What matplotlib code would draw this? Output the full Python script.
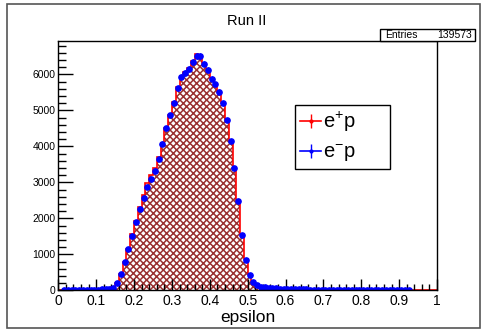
import numpy as np
import matplotlib.pyplot as plt
from matplotlib.lines import Line2D
from matplotlib.patches import Rectangle
from matplotlib.ticker import MultipleLocator

# ── 0. 全局设置 ────────────────────────────────────────────────
plt.rcParams['font.family'] = ['Liberation Sans', 'DejaVu Sans']
plt.rcParams['mathtext.default'] = 'regular'
plt.rcParams['hatch.linewidth'] = 1.1

# ── 1. 数据（100 bins, 0..1） ──────────────────────────────────
bin_edges = np.linspace(0, 1, 101)

# e-p  (蓝点)
ep_minus = [
    0, 8, 10, 12, 12, 14, 15, 16, 18, 20,
    22, 28, 32, 45, 75, 190, 440, 780, 1140, 1520,
    1890, 2260, 2570, 2880, 3090, 3310, 3640, 4070, 4500, 4860,
    5210, 5610, 5920, 6040, 6150, 6350, 6510, 6500, 6300, 6120,
    5880, 5720, 5510, 5190, 4730, 4150, 3400, 2480, 1540, 840,
    430, 230, 140, 100, 80, 70, 62, 52, 45, 38,
    32, 28, 26, 25, 24, 23, 22, 21, 20, 20,
    19, 18, 18, 17, 16, 16, 15, 15, 14, 14,
    13, 13, 12, 12, 11, 11, 10, 10, 10, 9,
    9, 8, 8, 0, 0, 0, 0, 0, 0, 0,
]

# e+p  (红色直方图)
ep_plus = [
    0, 8, 10, 12, 12, 14, 15, 16, 18, 20,
    22, 28, 32, 45, 80, 200, 460, 800, 1160, 1560,
    1930, 2310, 2640, 2980, 3200, 3400, 3700, 4100, 4520, 4880,
    5240, 5640, 5950, 6070, 6180, 6380, 6560, 6540, 6320, 6130,
    5890, 5730, 5520, 5200, 4740, 4160, 3410, 2500, 1560, 860,
    440, 235, 140, 100, 80, 70, 62, 52, 45, 38,
    32, 28, 26, 25, 24, 23, 22, 21, 20, 20,
    19, 18, 18, 17, 16, 16, 15, 15, 14, 14,
    13, 13, 12, 12, 11, 11, 10, 10, 10, 9,
    9, 8, 8, 0, 0, 0, 0, 0, 0, 0,
]

n_entries = 139573

# ── 2. 画图 ────────────────────────────────────────────────────
fig = plt.figure(figsize=(4.84, 3.32), dpi=100)
ax = fig.add_axes([0.1205, 0.1256, 0.7825, 0.7509])

ax.stairs(ep_plus, bin_edges, fill=True, facecolor='white',
          edgecolor='#993030', hatch='xxxxx', linewidth=0)
ax.stairs(ep_plus, bin_edges, color='red', linewidth=1.2)

centers = bin_edges[:-1] + 0.005
y_minus = np.array(ep_minus, dtype=float)
mask = y_minus > 0
ax.errorbar(centers[mask], y_minus[mask], xerr=0.005, yerr=np.sqrt(y_minus[mask]),
            fmt='o', color='blue', markersize=3.8, linewidth=1, capsize=0)

ax.set_xlim(0, 1)
ax.set_ylim(0, 6925)

ax.xaxis.set_major_locator(MultipleLocator(0.1))
ax.xaxis.set_minor_locator(MultipleLocator(0.02))
ax.yaxis.set_major_locator(MultipleLocator(1000))
ax.yaxis.set_minor_locator(MultipleLocator(200))
ax.xaxis.set_major_formatter(plt.FuncFormatter(lambda v, p: f'{v:g}'))

ax.tick_params(axis='x', which='major', direction='in', length=8, width=1,
               labelsize=10, pad=3, top=False)
ax.tick_params(axis='x', which='minor', direction='in', length=4, width=1, top=False)
ax.tick_params(axis='y', which='major', direction='in', length=11, width=1,
               labelsize=7.5, pad=2, right=False)
ax.tick_params(axis='y', which='minor', direction='in', length=5.5, width=1, right=False)

for s in ax.spines.values():
    s.set_linewidth(1)
    s.set_color('black')

ax.set_xlabel('epsilon', fontsize=12.5, labelpad=1)

# 图例
h_plus = (Line2D([], [], color='red', lw=1.2),
          Line2D([], [], color='red', marker='|', markersize=10, linestyle='none'),
          Line2D([], [], color='red', marker='o', markersize=2, linestyle='none'))
h_minus = (Line2D([], [], color='blue', lw=1.2),
           Line2D([], [], color='blue', marker='|', markersize=10, linestyle='none'),
           Line2D([], [], color='blue', marker='o', markersize=2, linestyle='none'))
leg = ax.legend([h_plus, h_minus], ['$e^{+}p$', '$e^{-}p$'],
                loc='upper left', bbox_to_anchor=(0.625, 0.487, 0.251, 0.256),
                mode='expand', borderaxespad=0, fontsize=14.5,
                handlelength=1.05, handletextpad=0.1, borderpad=0.25,
                labelspacing=0.4, fancybox=False, framealpha=1,
                edgecolor='black')
leg.get_frame().set_linewidth(1)

# 标题与统计框
fig.text(0.5097, 1 - 20.7 / 332, 'Run II', ha='center', va='center', fontsize=10.5)
fig.patches.append(Rectangle((380 / 484, 1 - 41 / 332), 95 / 484, 12 / 332,
                             transform=fig.transFigure, facecolor='white',
                             edgecolor='black', linewidth=1, zorder=5))
fig.text(385 / 484, 1 - 35 / 332, 'Entries', ha='left', va='center',
         fontsize=7.5, zorder=6)
fig.text(472 / 484, 1 - 35 / 332, f'{n_entries}', ha='right', va='center',
         fontsize=7.5, zorder=6)

# 画布边框
fig.patches.append(Rectangle((7 / 484, 1 - 328 / 332), 473 / 484, 324 / 332,
                             transform=fig.transFigure, facecolor='none',
                             edgecolor='#555555', linewidth=1.2, zorder=0))

fig.savefig('out.png', dpi=100)
